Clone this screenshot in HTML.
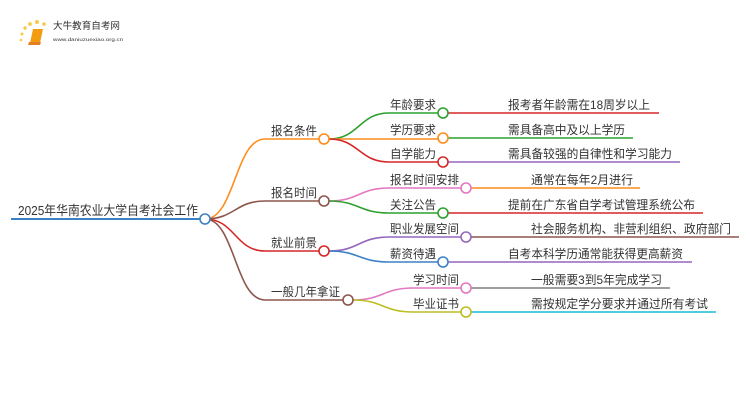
<!DOCTYPE html>
<html><head><meta charset="utf-8"><style>
html,body{margin:0;padding:0;background:#fff;}
svg{display:block;}
text{font-family:"Liberation Sans","Noto Sans CJK SC",sans-serif;fill:#333;}
</style></head><body>
<svg width="750" height="410" viewBox="0 0 750 410" xmlns="http://www.w3.org/2000/svg">
<!-- logo -->
<g>
<circle cx="21" cy="40" r="1.3" fill="#f7c948"/><circle cx="22" cy="34" r="1.5" fill="#f7c948"/><circle cx="25" cy="28" r="1.7" fill="#f7c948"/><circle cx="30" cy="24" r="1.9" fill="#f7c948"/><circle cx="37" cy="22" r="2" fill="#f7c948"/><circle cx="44" cy="24" r="1.8" fill="#f7c948"/>
<path d="M30 43 L33 29 L43 29 L40 43 Z" fill="#f39c12"/><path d="M28 45 L40 45 L41 42 L29 42Z" fill="#e67e22"/>
<text x="53" y="29" font-size="9.5" fill="#333" textLength="67" lengthAdjust="spacingAndGlyphs">大牛教育自考网</text>
<text x="53" y="41" font-size="4.5" fill="#666" textLength="70" lengthAdjust="spacingAndGlyphs">www.daniuzuexiao.org.cn</text>
</g>
<g fill="none" stroke-width="1.6">
<path d="M11 219 H200" stroke="#3b82c4" stroke-width="2"/>
<path d="M205 219 C235 219 235 139 265 139 H319" stroke="#ff8c1a"/>
<path d="M205 219 C235 219 235 201 265 201 H319" stroke="#8c564b"/>
<path d="M205 219 C235 219 235 251 265 251 H319" stroke="#d62728"/>
<path d="M205 219 C235 219 235 300 265 300 H343" stroke="#8c564b"/>
<path d="M329 139 C359 139 359 113 389 113 H438" stroke="#2ca02c"/>
<path d="M329 139 H438" stroke="#ff8c1a"/>
<path d="M329 139 C359 139 359 162 389 162 H438" stroke="#d62728"/>
<path d="M329 201 C359 201 359 188 389 188 H461" stroke="#e377c2"/>
<path d="M329 201 C359 201 359 213 389 213 H438" stroke="#2ca02c"/>
<path d="M329 251 C359 251 359 237 389 237 H461" stroke="#9467bd"/>
<path d="M329 251 C359 251 359 262 389 262 H438" stroke="#3b82c4"/>
<path d="M353 300 C383 300 383 288 413 288 H461" stroke="#e377c2"/>
<path d="M353 300 C383 300 383 312 413 312 H461" stroke="#bcbd22"/>
<path d="M448 113 H659" stroke="#d62728"/>
<path d="M448 138 H633" stroke="#2ca02c"/>
<path d="M448 162 H680" stroke="#9467bd"/>
<path d="M471 188 H640" stroke="#ff8c1a"/>
<path d="M448 213 H703" stroke="#d62728"/>
<path d="M471 237 H739" stroke="#8c564b"/>
<path d="M448 262 H692" stroke="#9467bd"/>
<path d="M471 288 H670" stroke="#7f7f7f"/>
<path d="M471 312 H716" stroke="#17becf"/>
</g>
<g fill="#fff" stroke-width="1.6">
<circle cx="205" cy="219" r="5" stroke="#3b82c4"/>
<circle cx="324" cy="139" r="5" stroke="#ff8c1a"/>
<circle cx="324" cy="201" r="5" stroke="#8c564b"/>
<circle cx="324" cy="251" r="5" stroke="#d62728"/>
<circle cx="348" cy="300" r="5" stroke="#8c564b"/>
<circle cx="443" cy="113" r="5" stroke="#2ca02c"/>
<circle cx="443" cy="138" r="5" stroke="#ff8c1a"/>
<circle cx="443" cy="162" r="5" stroke="#d62728"/>
<circle cx="466" cy="188" r="5" stroke="#e377c2"/>
<circle cx="443" cy="213" r="5" stroke="#2ca02c"/>
<circle cx="466" cy="237" r="5" stroke="#9467bd"/>
<circle cx="443" cy="262" r="5" stroke="#3b82c4"/>
<circle cx="466" cy="288" r="5" stroke="#e377c2"/>
<circle cx="466" cy="312" r="5" stroke="#bcbd22"/>
</g>
<g font-size="12" lengthAdjust="spacingAndGlyphs">
<text x="18" y="215" font-size="13" textLength="180" lengthAdjust="spacingAndGlyphs">2025年华南农业大学自考社会工作</text>
<text x="271" y="135" textLength="46" lengthAdjust="spacingAndGlyphs">报名条件</text>
<text x="271" y="197" textLength="46" lengthAdjust="spacingAndGlyphs">报名时间</text>
<text x="271" y="247" textLength="46" lengthAdjust="spacingAndGlyphs">就业前景</text>
<text x="271" y="296" textLength="69" lengthAdjust="spacingAndGlyphs">一般几年拿证</text>
<text x="390" y="109" textLength="46" lengthAdjust="spacingAndGlyphs">年龄要求</text>
<text x="390" y="134" textLength="46" lengthAdjust="spacingAndGlyphs">学历要求</text>
<text x="390" y="158" textLength="46" lengthAdjust="spacingAndGlyphs">自学能力</text>
<text x="390" y="184" textLength="69" lengthAdjust="spacingAndGlyphs">报名时间安排</text>
<text x="390" y="209" textLength="46" lengthAdjust="spacingAndGlyphs">关注公告</text>
<text x="390" y="233" textLength="69" lengthAdjust="spacingAndGlyphs">职业发展空间</text>
<text x="390" y="258" textLength="46" lengthAdjust="spacingAndGlyphs">薪资待遇</text>
<text x="413" y="284" textLength="46" lengthAdjust="spacingAndGlyphs">学习时间</text>
<text x="413" y="308" textLength="46" lengthAdjust="spacingAndGlyphs">毕业证书</text>
<text x="508" y="109" textLength="142" lengthAdjust="spacingAndGlyphs">报考者年龄需在18周岁以上</text>
<text x="508" y="134" textLength="117" lengthAdjust="spacingAndGlyphs">需具备高中及以上学历</text>
<text x="508" y="158" textLength="164" lengthAdjust="spacingAndGlyphs">需具备较强的自律性和学习能力</text>
<text x="531" y="184" textLength="102" lengthAdjust="spacingAndGlyphs">通常在每年2月进行</text>
<text x="508" y="209" textLength="187" lengthAdjust="spacingAndGlyphs">提前在广东省自学考试管理系统公布</text>
<text x="531" y="233" textLength="200" lengthAdjust="spacingAndGlyphs">社会服务机构、非营利组织、政府部门</text>
<text x="508" y="258" textLength="175" lengthAdjust="spacingAndGlyphs">自考本科学历通常能获得更高薪资</text>
<text x="531" y="284" textLength="131" lengthAdjust="spacingAndGlyphs">一般需要3到5年完成学习</text>
<text x="531" y="308" textLength="177" lengthAdjust="spacingAndGlyphs">需按规定学分要求并通过所有考试</text>
</g>
</svg>
</body></html>
